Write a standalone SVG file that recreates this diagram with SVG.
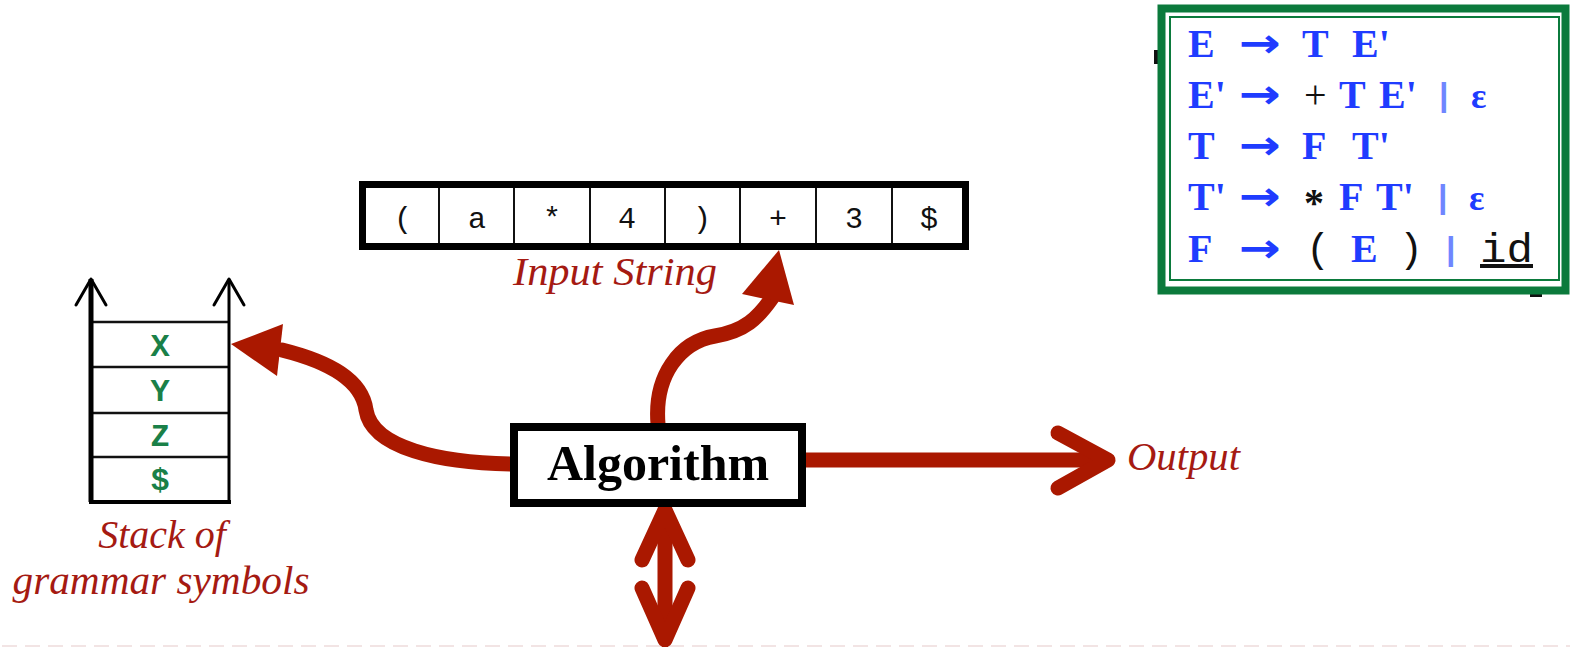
<svg xmlns="http://www.w3.org/2000/svg" width="1570" height="647" viewBox="0 0 1570 647">
<style>
.lbl{font-family:"Liberation Serif",serif;font-style:italic;fill:#a51a12;font-size:40px}
.cell{font-family:"Liberation Mono",monospace;font-size:30px;fill:#111;text-anchor:middle}
.stk{font-family:"Liberation Mono",monospace;font-size:32px;font-weight:bold;fill:#1a8048;text-anchor:middle}
.g{font-family:"Liberation Serif",serif;font-weight:bold;font-size:40px;fill:#1f3cff}
.arr{font-family:"DejaVu Sans",sans-serif;font-weight:bold;font-size:40px;fill:#1f3cff}
.blk{font-family:"Liberation Serif",serif;font-size:40px;fill:#111}
.mono{font-family:"Liberation Mono",monospace;font-size:40px;fill:#111}
.bar{font-family:"Liberation Sans",sans-serif;font-size:34px;font-weight:bold;fill:#6f86ff}
.eps{font-family:"Liberation Serif",serif;font-weight:bold;font-size:36px;fill:#1f3cff}
.red{stroke:#aa1800;fill:none;stroke-width:15;stroke-linecap:round;stroke-linejoin:round}
</style>
<rect width="1570" height="647" fill="#fff"/>
<line x1="2" y1="646" x2="1570" y2="646" stroke="#f2e4e4" stroke-width="2" stroke-dasharray="15 8"/>

<g id="grammar">
  <rect x="1154" y="50" width="4" height="14" fill="#111"/>
  <rect x="1530" y="292" width="12" height="5" fill="#111"/>
  <rect x="1161.5" y="8.5" width="404" height="282" fill="#fff" stroke="#0b7a3c" stroke-width="8"/>
  <rect x="1170" y="17" width="389" height="263" fill="none" stroke="#0b7a3c" stroke-width="2"/>
  <text class="g" x="1188" y="57">E</text>
  <text class="arr" x="1239" y="57" textLength="42" lengthAdjust="spacingAndGlyphs">→</text>
  <text class="g" x="1302" y="57">T</text>
  <text class="g" x="1352" y="57">E'</text>

  <text class="g" x="1188" y="108">E'</text>
  <text class="arr" x="1239" y="108" textLength="42" lengthAdjust="spacingAndGlyphs">→</text>
  <text class="blk" x="1304" y="108">+</text>
  <text class="g" x="1339" y="108">T</text>
  <text class="g" x="1379" y="108">E'</text>
  <text class="bar" x="1439" y="106">|</text>
  <text class="eps" x="1471" y="108">ε</text>

  <text class="g" x="1188" y="159">T</text>
  <text class="arr" x="1239" y="159" textLength="42" lengthAdjust="spacingAndGlyphs">→</text>
  <text class="g" x="1302" y="159">F</text>
  <text class="g" x="1352" y="159">T'</text>

  <text class="g" x="1188" y="210">T'</text>
  <text class="arr" x="1239" y="210" textLength="42" lengthAdjust="spacingAndGlyphs">→</text>
  <text class="blk" x="1304" y="216" font-weight="bold">*</text>
  <text class="g" x="1339" y="210">F</text>
  <text class="g" x="1376" y="210">T'</text>
  <text class="bar" x="1438" y="208">|</text>
  <text class="eps" x="1469" y="210">ε</text>

  <text class="g" x="1188" y="262">F</text>
  <text class="arr" x="1239" y="262" textLength="42" lengthAdjust="spacingAndGlyphs">→</text>
  <text class="mono" x="1306" y="262">(</text>
  <text class="g" x="1351" y="262">E</text>
  <text class="mono" x="1399" y="262">)</text>
  <text class="bar" x="1446" y="260">|</text>
  <text class="mono" x="1480" y="262" text-decoration="underline" textLength="53" lengthAdjust="spacingAndGlyphs">id</text>
</g>

<g id="input-string">
  <rect x="362.5" y="184.5" width="603" height="62" fill="#fff" stroke="#000" stroke-width="7"/>
  <g stroke="#111" stroke-width="2">
    <line x1="439" y1="188" x2="439" y2="243"/>
    <line x1="514" y1="188" x2="514" y2="243"/>
    <line x1="590" y1="188" x2="590" y2="243"/>
    <line x1="665" y1="188" x2="665" y2="243"/>
    <line x1="740" y1="188" x2="740" y2="243"/>
    <line x1="816" y1="188" x2="816" y2="243"/>
    <line x1="892" y1="188" x2="892" y2="243"/>
  </g>
  <text class="cell" x="403" y="228">(</text>
  <text class="cell" x="477" y="228">a</text>
  <text class="cell" x="552" y="228">*</text>
  <text class="cell" x="627" y="228">4</text>
  <text class="cell" x="702" y="228">)</text>
  <text class="cell" x="778" y="228">+</text>
  <text class="cell" x="854" y="228">3</text>
  <text class="cell" x="929" y="228">$</text>
  <text class="lbl" x="513" y="285" textLength="204" lengthAdjust="spacingAndGlyphs">Input String</text>
</g>

<g id="stack">
  <g stroke="#111" stroke-width="2.5">
    <line x1="91" y1="322" x2="229" y2="322"/>
    <line x1="91" y1="367" x2="229" y2="367"/>
    <line x1="91" y1="413" x2="229" y2="413"/>
    <line x1="91" y1="457" x2="229" y2="457"/>
  </g>
  <line x1="91" y1="279" x2="91" y2="502" stroke="#000" stroke-width="5"/>
  <line x1="229" y1="279" x2="229" y2="502" stroke="#000" stroke-width="3"/>
  <line x1="89" y1="502" x2="231" y2="502" stroke="#000" stroke-width="4"/>
  <polyline points="76,305 91,279 106,305" fill="none" stroke="#000" stroke-width="3" stroke-linecap="round" stroke-linejoin="round"/>
  <polyline points="214,305 229,279 244,305" fill="none" stroke="#000" stroke-width="3" stroke-linecap="round" stroke-linejoin="round"/>
  <text class="stk" x="160" y="356">X</text>
  <text class="stk" x="160" y="401">Y</text>
  <text class="stk" x="160" y="446">Z</text>
  <text class="stk" x="160" y="490">$</text>
  <text class="lbl" x="162" y="548" text-anchor="middle">Stack of</text>
  <text class="lbl" x="161" y="594" text-anchor="middle" textLength="297" lengthAdjust="spacingAndGlyphs">grammar symbols</text>
</g>

<g id="connectors">
  <path class="red" d="M512,464 C440,463 372,448 366,410 C362,380 330,362 282,350" stroke-linecap="butt"/>
  <polygon points="231,344 283,324 277,376" fill="#aa1800"/>
  <path class="red" d="M658,424 C654,375 680,342 715,336 C745,331 758,318 772,298" stroke-linecap="butt"/>
  <polygon points="779,250 742,294 794,305" fill="#aa1800"/>
  <line class="red" x1="806" y1="460" x2="1104" y2="460" stroke-linecap="butt"/>
  <polyline class="red" points="1058,433 1108,460 1058,488" stroke-width="14"/>
  <line class="red" x1="665" y1="512" x2="665" y2="638" stroke-linecap="butt"/>
  <polyline class="red" points="642,560 665,510 688,560" stroke-width="14"/>
  <polyline class="red" points="642,588 665,640 688,588" stroke-width="14"/>
</g>

<g id="algorithm">
  <rect x="514" y="427" width="288" height="76" fill="#fff" stroke="#000" stroke-width="8"/>
  <text x="658" y="480" text-anchor="middle" font-family="Liberation Serif, serif" font-weight="bold" font-size="50" fill="#000">Algorithm</text>
</g>

<text class="lbl" x="1127" y="470" textLength="113" lengthAdjust="spacingAndGlyphs">Output</text>
</svg>
